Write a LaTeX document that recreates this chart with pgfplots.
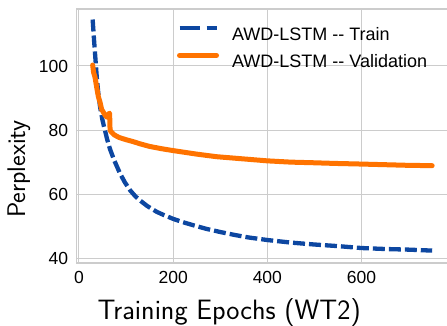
\documentclass[border=0pt]{standalone}
\usepackage{fontspec}
\setmainfont{Liberation Sans}
\usepackage{pgfplots}
\pgfplotsset{compat=1.18}
\definecolor{trainblue}{HTML}{0D47A1}
\definecolor{valorange}{HTML}{FF7300}
\definecolor{gridgray}{HTML}{CCCCCC}
\begin{document}
\begin{tikzpicture}
\begin{axis}[
  at={(0pt,0pt)}, anchor=south west,
  scale only axis, width=373pt, height=254pt,
  xmin=-5.73, xmax=786.4, ymin=38.53, ymax=117.78,
  xtick={0,200,400,600}, ytick={40,60,80,100},
  grid=major, major grid style={gridgray, line width=1pt},
  axis line style={gridgray, line width=1.2pt},
  major tick length=0pt,
  /pgf/number format/assume math mode=true,
  ticklabel style={font=\fontsize{17.5}{20}\selectfont},
  yticklabel style={anchor=east, inner sep=0pt, xshift=-8pt},
  xticklabel style={anchor=north, inner sep=0pt, yshift=-7.7pt},
  xlabel={Training Epochs (WT2)}, ylabel={Perplexity},
  xlabel style={font=\sffamily\fontsize{28}{32}\selectfont, at={(axis description cs:0.41,-0.2217)}, anchor=base},
  ylabel style={font=\sffamily\fontsize{25.5}{30}\selectfont, at={(axis description cs:-0.1375,0.37)}, anchor=base},
  legend style={draw=none, fill=none, at={(axis description cs:0.270,0.933)}, anchor=north west,
    inner sep=0pt, outer sep=0pt, font=\fontsize{18}{21}\selectfont,
    nodes={inner sep=0pt}, row sep=11pt, column sep=13pt},
  legend cell align=left,
  legend image code/.code={\draw[#1] (0pt,6.5pt) -- (37pt,6.5pt);},
]
\addplot[trainblue, line width=4.3pt, dash pattern=on 12pt off 4pt, forget plot] coordinates {
(29,114.5) (32,108) (35,102) (38,96) (41,91.5) (45,87) (50,83) (55,80) (60,77) (66,74)
(75,70.5) (87,66.5) (97,63.8) (108,61.3) (120,59.3) (130,58) (145,56.3) (165,54.5) (180,53.5)
(200,52.3) (220,51.3) (243,50.3) (270,49.2) (300,48.2) (330,47.3) (360,46.5) (400,45.7)
(450,44.9) (500,44.3) (550,43.8) (600,43.2) (650,42.9) (700,42.7) (750,42.4)
};
\addplot[valorange, line width=5pt, line cap=round, line join=round, forget plot] coordinates {
(29,100.3) (31,98) (34,96.5) (38,93) (41,90.5) (45,88.5) (48,86.5) (52,85.5) (56,84.5) (60,84)
(63,85) (65,85.3) (66,80) (68,79.5) (75,78.5) (85,77.7) (100,77.0) (115,76.4) (130,75.7)
(150,74.9) (175,74.2) (200,73.6) (250,72.5) (292,71.7) (350,71.0) (400,70.4) (450,70.0)
(500,69.8) (543,69.6) (600,69.4) (650,69.2) (700,69.0) (750,68.9)
};
\addlegendimage{trainblue, line width=4.3pt, dash pattern=on 20pt off 7pt}
\addlegendentry{AWD-LSTM -{}- Train}
\addlegendimage{valorange, line width=5pt, line cap=round}
\addlegendentry{AWD-LSTM -{}- Validation}
\end{axis}
\pgfresetboundingbox
\useasboundingbox (-76.3pt,-62pt) rectangle (370.7pt,263pt);
\end{tikzpicture}
\end{document}
